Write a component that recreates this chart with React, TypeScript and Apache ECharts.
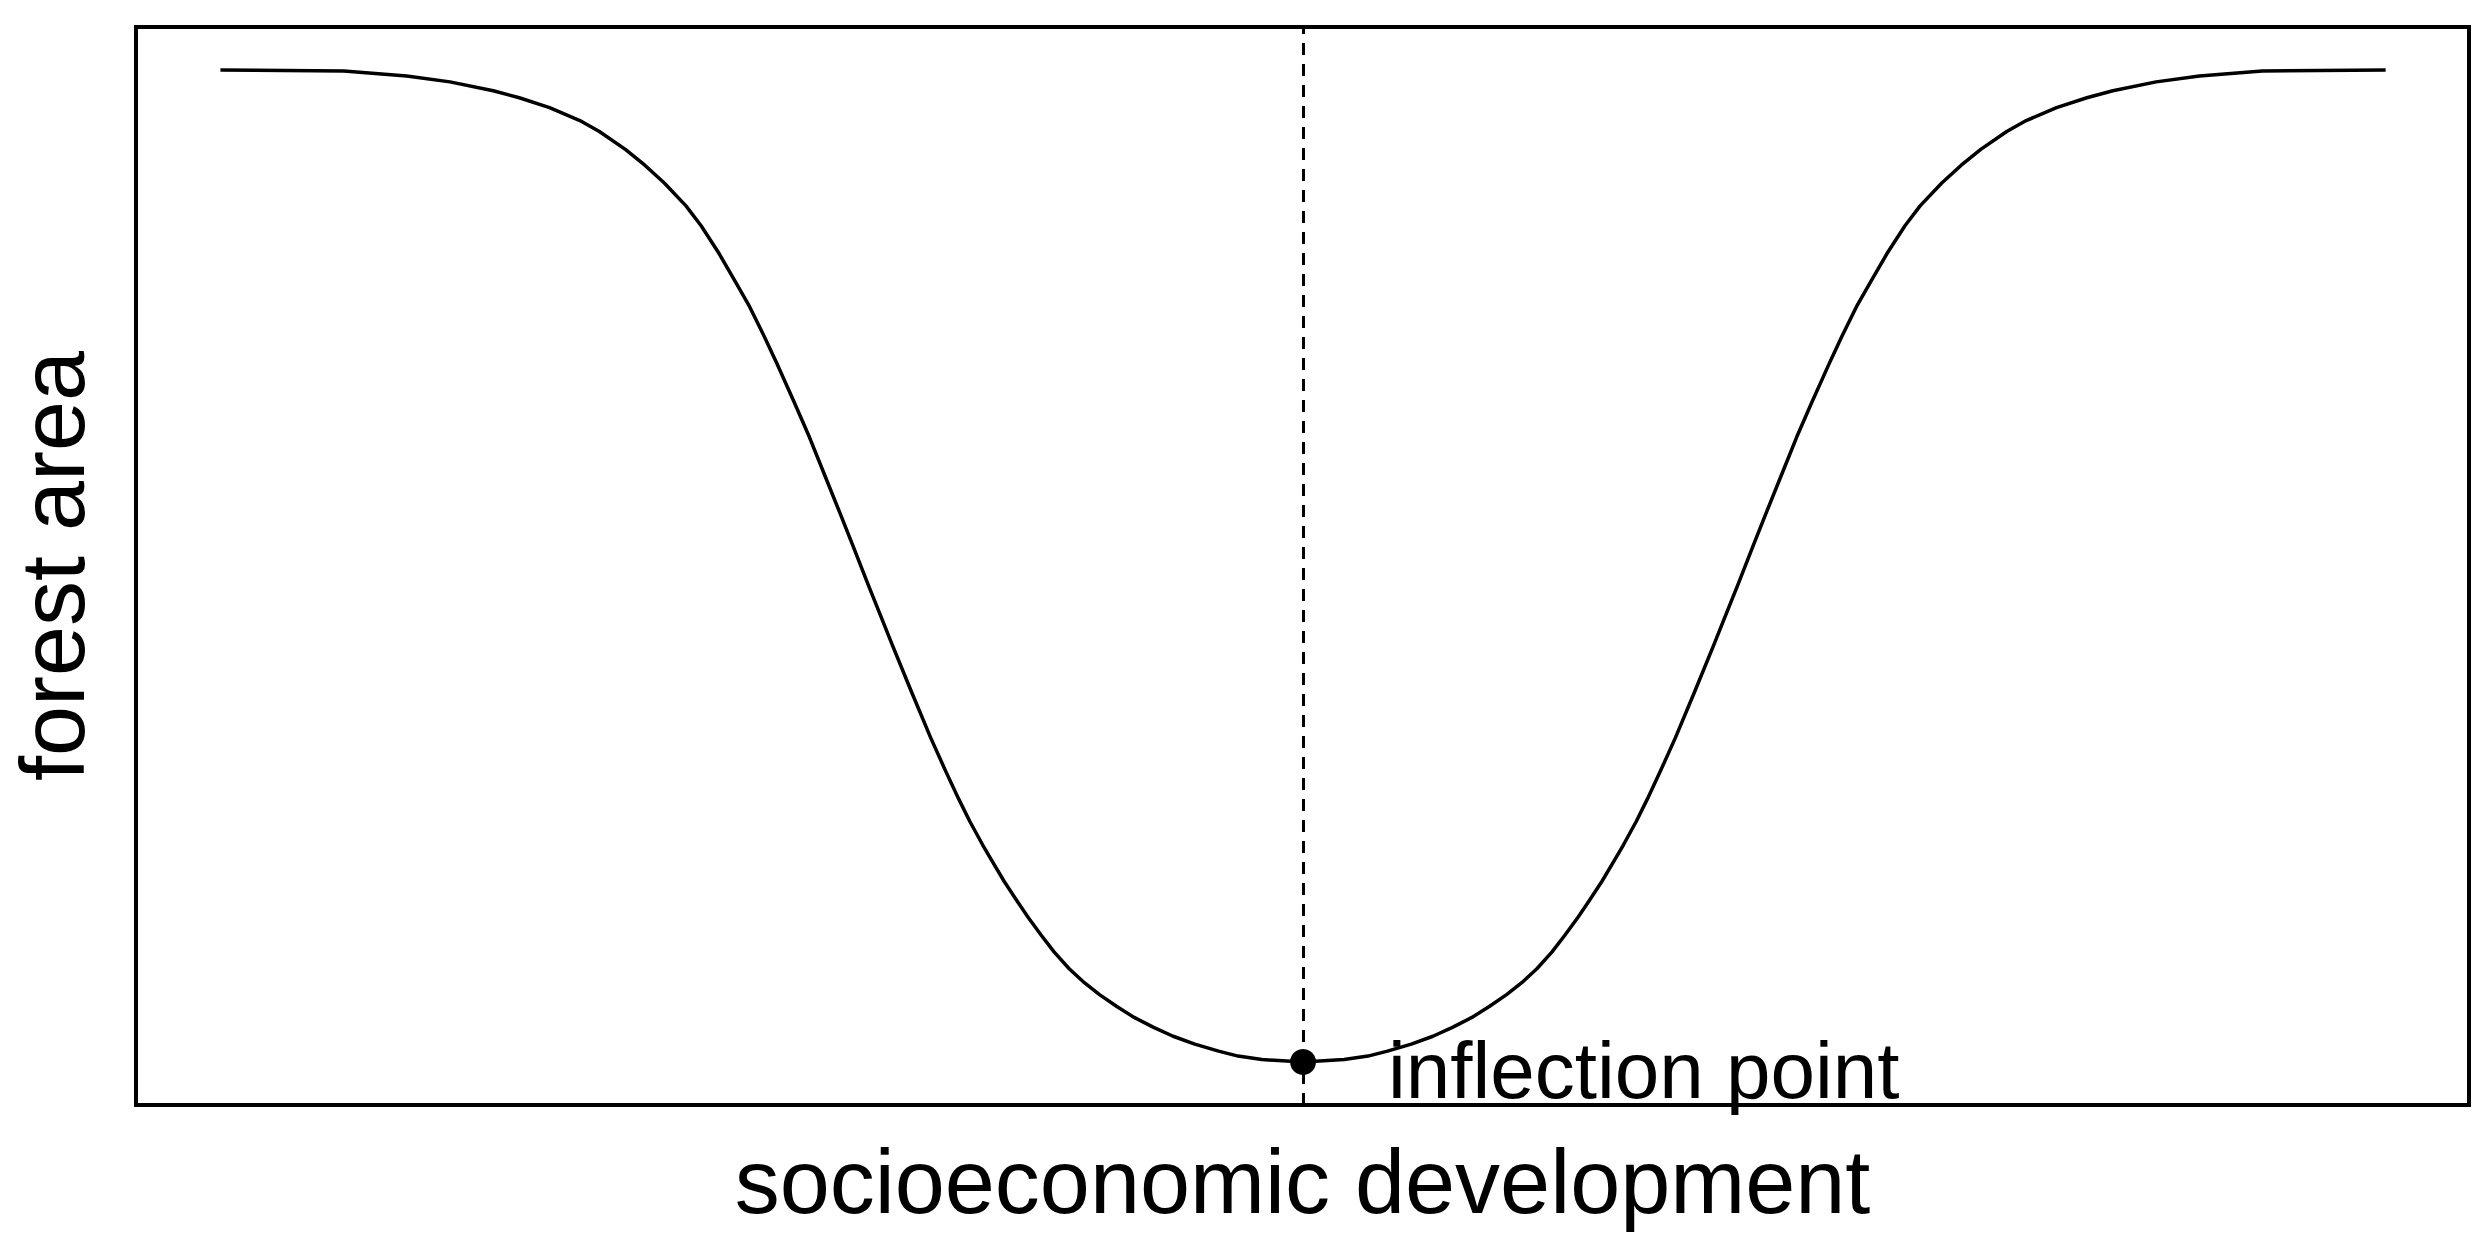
import React, { useEffect, useRef } from "react";
import * as echarts from "echarts";

// socioeconomic development (0-100 scale) vs forest area (0-100 scale)
const devX = [
  0.0, 5.7, 8.6, 10.6, 12.6, 13.8, 15.2, 16.6, 17.5, 18.7, 19.6, 20.5, 21.5, 22.2, 23.0, 23.8,
  24.4, 25.1, 25.7, 26.5, 27.2, 27.9, 28.6, 29.2, 29.9, 30.6, 31.0, 31.9, 32.8, 33.5, 34.1, 34.6,
  35.2, 35.6, 36.2, 36.8, 37.3, 37.9, 38.5, 39.2, 39.9, 40.6, 41.4, 42.2, 43.1, 44.0, 45.0, 46.1,
  47.0, 48.1, 50.0,
  51.9, 53.0, 53.9, 55.0, 56.0, 56.9, 57.8, 58.6, 59.4, 60.1, 60.8, 61.5, 62.1, 62.7, 63.2, 63.8,
  64.4, 64.8, 65.4, 65.9, 66.5, 67.2, 68.1, 69.0, 69.4, 70.1, 70.8, 71.4, 72.1, 72.8, 73.5, 74.3,
  74.9, 75.6, 76.2, 77.0, 77.8, 78.5, 79.5, 80.4, 81.3, 82.5, 83.4, 84.8, 86.2, 87.4, 89.4, 91.4,
  94.3, 100.0,
];
const forestY = [
  100.0, 99.9, 99.4, 98.8, 97.9, 97.2, 96.2, 94.9, 93.8, 92.0, 90.4, 88.6, 86.3, 84.3, 81.6, 78.6,
  76.3, 73.2, 70.4, 66.5, 63.0, 59.2, 55.4, 52.1, 48.2, 44.4, 42.2, 37.4, 32.7, 29.3, 26.5, 24.3,
  21.9, 20.4, 18.2, 16.2, 14.6, 12.8, 11.1, 9.4, 8.0, 6.8, 5.6, 4.5, 3.5, 2.6, 1.8, 1.1,
  0.6, 0.25, 0.0,
  0.25, 0.6, 1.1, 1.8, 2.6, 3.5, 4.5, 5.6, 6.8, 8.0, 9.4, 11.1, 12.8, 14.6, 16.2, 18.2,
  20.4, 21.9, 24.3, 26.5, 29.3, 32.7, 37.4, 42.2, 44.4, 48.2, 52.1, 55.4, 59.2, 63.0, 66.5, 70.4,
  73.2, 76.3, 78.6, 81.6, 84.3, 86.3, 88.6, 90.4, 92.0, 93.8, 94.9, 96.2, 97.2, 97.9, 98.8, 99.4,
  99.9, 100.0,
];
const inflectionX = [50.0];
const inflectionY = [0.0];
const xTitle = "socioeconomic development";
const yTitle = "forest area";
const pointLabel = "inflection point";

const FONT = "'Liberation Sans', Arial, sans-serif";

export default function App() {
  const ref = useRef<HTMLDivElement>(null);
  useEffect(() => {
    if (!ref.current) return;
    const chart = echarts.init(ref.current, null, { renderer: "svg" });
    const curve = devX.map((x, i) => [x, forestY[i]]);
    const points = inflectionX.map((x, i) => [x, inflectionY[i]]);
    chart.setOption({
      animation: false,
      backgroundColor: "#ffffff",
      grid: {
        left: 134,
        right: 19,
        top: 27,
        bottom: 135,
        show: true,
        borderColor: "#000000",
        borderWidth: 4,
        backgroundColor: "transparent",
      },
      xAxis: {
        type: "value",
        min: -3.9,
        max: 103.85,
        axisLine: { show: false },
        axisTick: { show: false },
        axisLabel: { show: false },
        splitLine: { show: false },
        name: xTitle,
        nameLocation: "middle",
        nameGap: 77,
        nameTextStyle: {
          fontSize: 90,
          fontFamily: FONT,
          color: "#000000",
          verticalAlign: "middle",
        },
      },
      yAxis: {
        type: "value",
        min: -4.33,
        max: 104.33,
        axisLine: { show: false },
        axisTick: { show: false },
        axisLabel: { show: false },
        splitLine: { show: false },
        name: yTitle,
        nameLocation: "middle",
        nameRotate: 90,
        nameGap: 83,
        nameTextStyle: {
          fontSize: 90,
          fontFamily: FONT,
          color: "#000000",
          verticalAlign: "middle",
        },
      },
      series: [
        {
          type: "line",
          data: curve,
          showSymbol: false,
          smooth: false,
          lineStyle: { color: "#000000", width: 3.5, join: "round" },
          silent: true,
        },
        {
          type: "scatter",
          data: points,
          symbol: "circle",
          symbolSize: 26,
          itemStyle: { color: "#000000", opacity: 1 },
          label: {
            show: true,
            position: "right",
            distance: 72,
            offset: [0, 8],
            formatter: pointLabel,
            fontSize: 80,
            fontFamily: FONT,
            color: "#000000",
            opacity: 1,
          },
          markLine: {
            silent: true,
            symbol: ["none", "none"],
            label: { show: false },
            lineStyle: { color: "#000000", width: 3, type: [12, 9], opacity: 1 },
            data: [{ xAxis: inflectionX[0] }],
          },
          z: 3,
        },
      ],
    });
    return () => chart.dispose();
  }, []);
  return (
    <div
      ref={ref}
      style={{ position: "fixed", left: 0, top: 0, width: 2488, height: 1240, background: "#fff" }}
    />
  );
}
